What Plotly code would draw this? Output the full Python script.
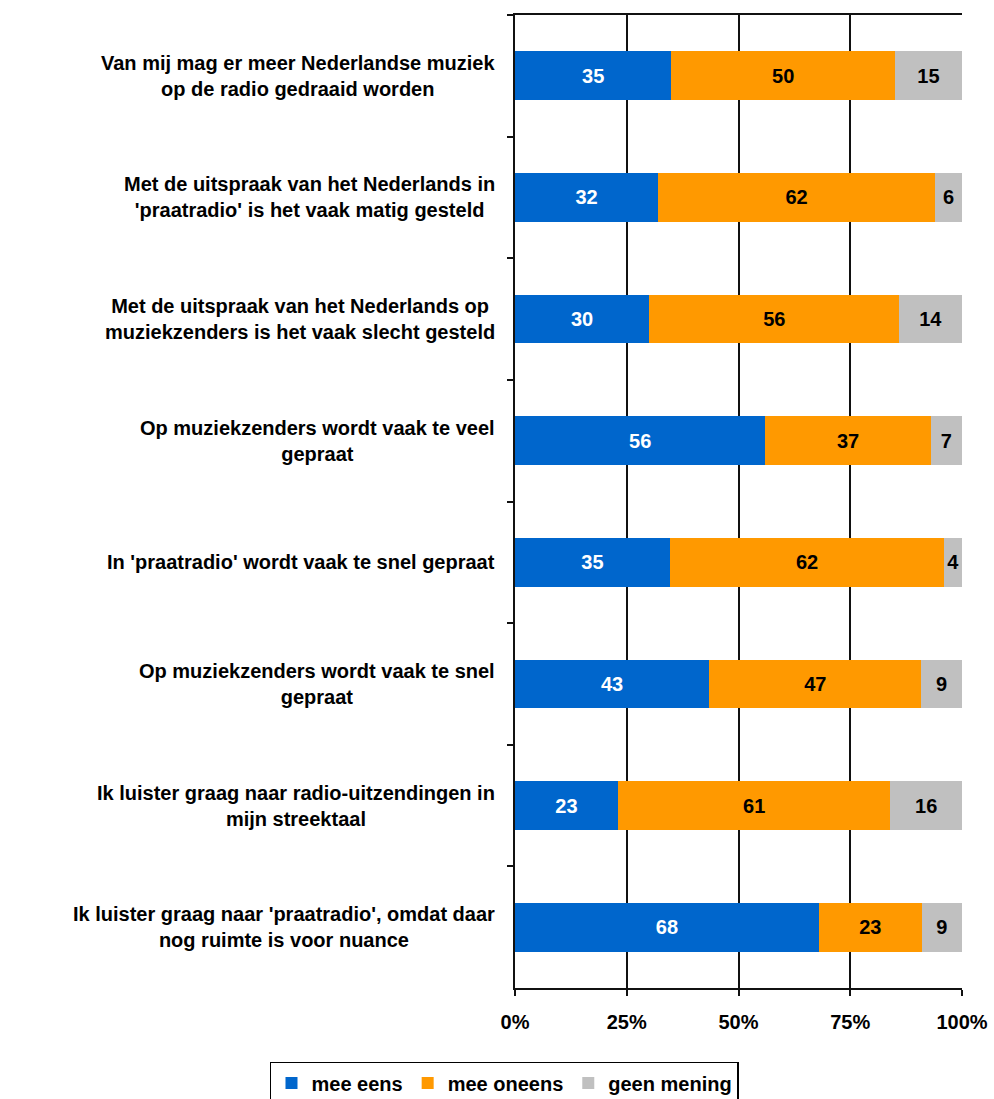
import plotly.graph_objects as go

# Survey statements (top to bottom) and answer shares per statement
statements = [
    "Van mij mag er meer Nederlandse muziek<br>op de radio gedraaid worden",
    "Met de uitspraak van het Nederlands in<br>'praatradio' is het vaak matig gesteld",
    "Met de uitspraak van het Nederlands op<br>muziekzenders is het vaak slecht gesteld",
    "Op muziekzenders wordt vaak te veel<br>gepraat",
    "In 'praatradio' wordt vaak te snel gepraat",
    "Op muziekzenders wordt vaak te snel<br>gepraat",
    "Ik luister graag naar radio-uitzendingen in<br>mijn streektaal",
    "Ik luister graag naar 'praatradio', omdat daar<br>nog ruimte is voor nuance",
]
mee_eens = [35, 32, 30, 56, 35, 43, 23, 68]
mee_oneens = [50, 62, 56, 37, 62, 47, 61, 23]
geen_mening = [15, 6, 14, 7, 4, 9, 16, 9]

series_names = ["mee eens", "mee oneens", "geen mening"]
series_values = [mee_eens, mee_oneens, geen_mening]
series_colors = ["#0066CC", "#FF9900", "#C0C0C0"]
label_colors = ["white", "black", "black"]

x_ticks = [0, 25, 50, 75, 100]
x_tick_labels = ["0%", "25%", "50%", "75%", "100%"]

FONT = "Liberation Sans, Arial, sans-serif"

fig = go.Figure()
for name, vals, color, tcolor in zip(series_names, series_values, series_colors, label_colors):
    fig.add_trace(go.Bar(
        y=statements,
        x=vals,
        name=name,
        orientation="h",
        marker=dict(color=color, line=dict(width=0)),
        text=[str(v) for v in vals],
        textposition="inside",
        insidetextanchor="middle",
        textangle=0,
        constraintext="none",
        textfont=dict(family=FONT, size=20, color=tcolor, weight="bold"),
    ))

# Statement labels, centred line by line and right-aligned against the axis
for s in statements:
    fig.add_annotation(
        x=0, xref="paper", y=s, yref="y",
        text=s, showarrow=False,
        xanchor="right", yanchor="middle", align="center",
        xshift=-18,
        font=dict(family=FONT, size=20, color="black", weight="bold"),
    )

fig.update_layout(
    width=994, height=1099,
    margin=dict(l=515, r=32, t=15, b=111, autoexpand=False),
    paper_bgcolor="white", plot_bgcolor="white",
    barmode="stack", barnorm="percent", bargap=0.6,
    uniformtext=dict(minsize=20, mode="show"),
    font=dict(family=FONT, size=20, color="black"),
    showlegend=True,
    legend=dict(
        orientation="h",
        x=-0.0235, xanchor="center",
        y=-0.076, yanchor="top",
        bordercolor="black", borderwidth=1.5,
        font=dict(family=FONT, size=20, color="black", weight="bold"),
        traceorder="normal",
        itemclick=False,
        tracegroupgap=0,
    ),
)

fig.update_xaxes(
    range=[0, 100],
    tickmode="array", tickvals=x_ticks, ticktext=x_tick_labels,
    tickfont=dict(family=FONT, size=20, color="black", weight="bold"),
    ticks="outside", ticklen=6, tickwidth=2, tickcolor="#111",
    ticklabelstandoff=9,
    showgrid=True, gridcolor="#111", gridwidth=2,
    showline=True, linecolor="#111", linewidth=2, mirror=True,
    zeroline=False, fixedrange=True, automargin=False,
)
fig.update_yaxes(
    type="category", autorange="reversed",
    showticklabels=False,
    ticks="outside", ticklen=6, tickwidth=2, tickcolor="#111",
    tickson="boundaries",
    showgrid=False, showline=True, linecolor="#111", linewidth=2,
    zeroline=False, fixedrange=True, automargin=False,
)

fig.write_html("out.html")
